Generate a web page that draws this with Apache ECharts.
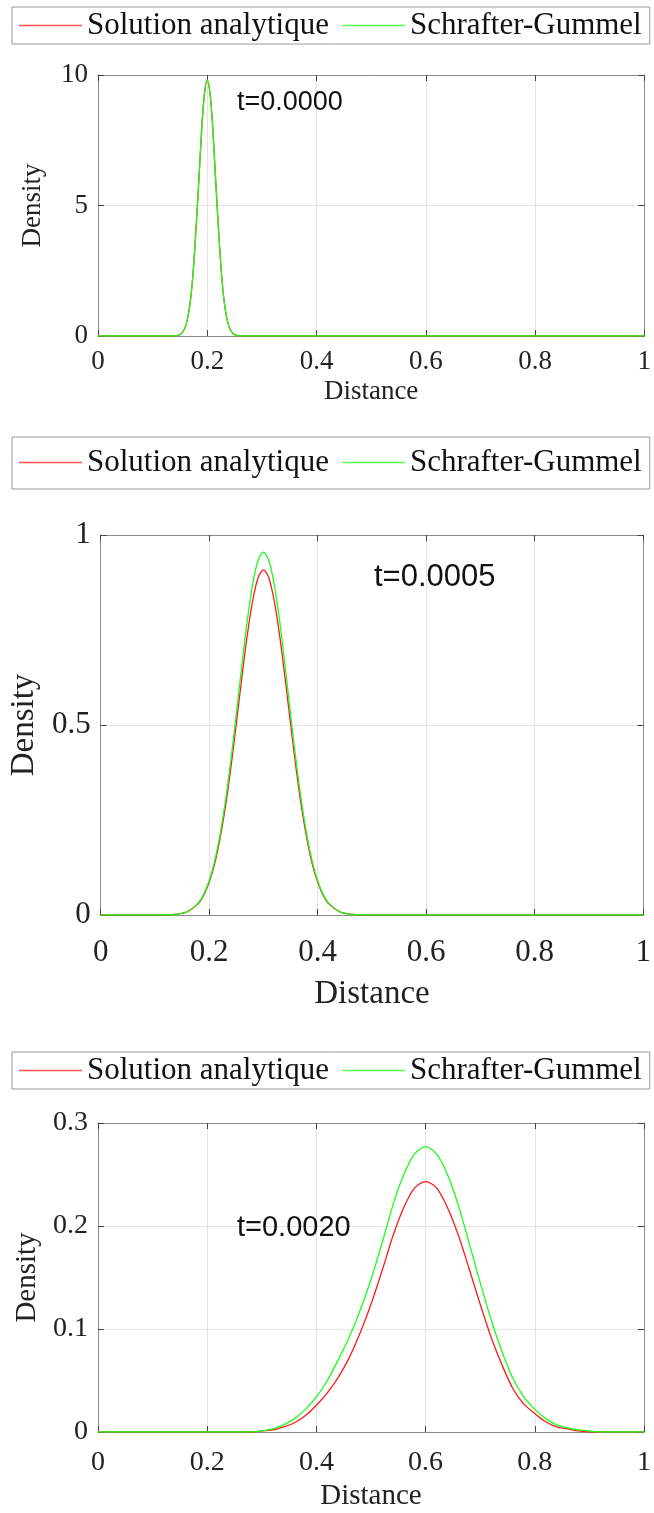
<!DOCTYPE html>
<html>
<head>
<meta charset="utf-8">
<script src="https://cdn.jsdelivr.net/npm/echarts@6/dist/echarts.min.js"></script>
<style>
  html, body { margin: 0; padding: 0; background: #fff; }
  #chart { width: 654px; height: 1513px; }
</style>
</head>
<body>
<div id="chart"></div>
<script>
// series names
const names = ['Solution analytique', 'Schrafter-Gummel']
const times = ['t=0.0000', 't=0.0005', 't=0.0020']
const xTicks = [0, 0.2, 0.4, 0.6, 0.8, 1]
const yTicks1 = [0, 5, 10]
const yTicks2 = [0, 0.5, 1]
const yTicks3 = [0, 0.1, 0.2, 0.3]

// panel 1 : t = 0 (both curves coincide)
const x1 = [0, 0.14, 0.15, 0.155, 0.16, 0.165, 0.17, 0.175, 0.18, 0.185, 0.19, 0.195, 0.2,
  0.205, 0.21, 0.215, 0.22, 0.225, 0.23, 0.235, 0.24, 0.245, 0.25, 0.26, 1]
const red1 = [0, 0, 0.05, 0.15, 0.35, 0.77, 1.5, 2.67, 4.3, 6.1, 8.0, 9.3, 9.8,
  9.3, 8.0, 6.1, 4.3, 2.67, 1.5, 0.77, 0.35, 0.15, 0.05, 0, 0]
const green1 = [0, 0, 0.05, 0.15, 0.35, 0.77, 1.5, 2.67, 4.3, 6.1, 8.0, 9.3, 9.8,
  9.3, 8.0, 6.1, 4.3, 2.67, 1.5, 0.77, 0.35, 0.15, 0.05, 0, 0]

// panel 2 : t = 0.0005
const x2 = [0, 0.12, 0.14, 0.16, 0.18, 0.19, 0.2, 0.21, 0.22, 0.23, 0.24, 0.25, 0.26, 0.27, 0.28, 0.29, 0.3,
  0.31, 0.32, 0.33, 0.34, 0.35, 0.36, 0.37, 0.38, 0.39, 0.4, 0.41, 0.42, 0.44, 0.46, 0.48, 1]
const red2 = [0, 0, 0.002, 0.009, 0.03, 0.052, 0.086, 0.134, 0.201, 0.285, 0.388, 0.503, 0.622, 0.734, 0.826, 0.887, 0.908,
  0.887, 0.826, 0.734, 0.622, 0.503, 0.388, 0.285, 0.201, 0.134, 0.086, 0.052, 0.03, 0.009, 0.002, 0, 0]
const green2 = [0, 0, 0.002, 0.009, 0.032, 0.055, 0.09, 0.141, 0.211, 0.3, 0.408, 0.529, 0.654, 0.772, 0.869, 0.933, 0.955,
  0.933, 0.869, 0.772, 0.654, 0.529, 0.408, 0.3, 0.211, 0.141, 0.09, 0.055, 0.032, 0.009, 0.002, 0, 0]

// panel 3 : t = 0.0020
const x3 = [0, 0.26, 0.28, 0.3, 0.32, 0.34, 0.36, 0.38, 0.4, 0.42, 0.44, 0.46, 0.48, 0.5, 0.52, 0.54, 0.56, 0.58, 0.6,
  0.62, 0.64, 0.66, 0.68, 0.7, 0.72, 0.74, 0.76, 0.78, 0.8, 0.82, 0.84, 0.86, 0.88, 0.9, 0.92, 0.94, 1]
const red3 = [0, 0, 0, 0.001, 0.002, 0.005, 0.009, 0.016, 0.026, 0.038, 0.053, 0.072, 0.096, 0.124, 0.156, 0.19, 0.218, 0.237, 0.243,
  0.237, 0.218, 0.191, 0.158, 0.124, 0.092, 0.065, 0.042, 0.027, 0.018, 0.01, 0.005, 0.003, 0.001, 0, 0, 0, 0]
const green3 = [0, 0, 0, 0.001, 0.003, 0.007, 0.013, 0.022, 0.034, 0.05, 0.07, 0.092, 0.118, 0.148, 0.183, 0.22, 0.25, 0.27, 0.277,
  0.27, 0.25, 0.22, 0.183, 0.145, 0.109, 0.078, 0.052, 0.034, 0.022, 0.013, 0.007, 0.004, 0.002, 0.001, 0, 0, 0]

const serif = '"Liberation Serif", "Times New Roman", serif'
const sans = '"Liberation Sans", Arial, sans-serif'
const redColor = '#ff1a1a'
const greenColor = '#1aff1a'

const panels = [
  { xs: x1, red: red1, green: green1, yTicks: yTicks1, top: 75, height: 261, legendTop: 7, legendPad: [3, 8, 3, 7],
    tickSize: 27, nameSize: 27, labelMargin: 12, xNameGap: 42, yNameGap: 52, text: [237, 103], textSize: 27 },
  { xs: x2, red: red2, green: green2, yTicks: yTicks2, top: 535, height: 380, legendTop: 437, legendPad: [10, 8, 11, 7],
    tickSize: 31, nameSize: 33, labelMargin: 22, xNameGap: 63, yNameGap: 50, text: [374, 577], textSize: 31 },
  { xs: x3, red: red3, green: green3, yTicks: yTicks3, top: 1123, height: 309, legendTop: 1052, legendPad: [3, 8, 3, 7],
    tickSize: 28, nameSize: 29, labelMargin: 17, xNameGap: 50, yNameGap: 53, text: [237, 1228], textSize: 29 }
]

const frame = { show: true, onZero: false, lineStyle: { color: '#8c8c8c', width: 1 } }
const inTick = { show: true, inside: true, length: 6, lineStyle: { color: '#444' } }
const gridLine = { show: true, lineStyle: { color: '#e4e4e4', width: 1 } }

let option = {
  animation: false,
  backgroundColor: '#fff',
  grid: [],
  xAxis: [],
  yAxis: [],
  legend: [],
  series: [],
  graphic: []
}

panels.forEach((p, i) => {
  let yStep = p.yTicks[1] - p.yTicks[0]
  let yMax = p.yTicks[p.yTicks.length - 1]
  option.grid.push({ left: 98, top: p.top, width: 552, height: p.height })
  option.xAxis.push({
    type: 'value', gridIndex: i, min: xTicks[0], max: xTicks[xTicks.length - 1], interval: xTicks[1] - xTicks[0],
    axisLine: frame, axisTick: inTick, splitLine: gridLine,
    axisLabel: { fontFamily: serif, fontSize: p.tickSize, color: '#222', margin: p.labelMargin },
    name: 'Distance', nameLocation: 'middle', nameGap: p.xNameGap,
    nameTextStyle: { fontFamily: serif, fontSize: p.nameSize, color: '#222' }
  })
  option.xAxis.push({
    type: 'value', gridIndex: i, position: 'top', min: xTicks[0], max: xTicks[xTicks.length - 1], interval: xTicks[1] - xTicks[0],
    axisLine: frame, axisTick: inTick, splitLine: { show: false }, axisLabel: { show: false }
  })
  option.yAxis.push({
    type: 'value', gridIndex: i, min: 0, max: yMax, interval: yStep,
    axisLine: frame, axisTick: inTick, splitLine: gridLine,
    axisLabel: { fontFamily: serif, fontSize: p.tickSize, color: '#222', margin: 10 },
    name: 'Density', nameLocation: 'middle', nameGap: p.yNameGap,
    nameTextStyle: { fontFamily: serif, fontSize: p.nameSize, color: '#222' }
  })
  option.yAxis.push({
    type: 'value', gridIndex: i, position: 'right', min: 0, max: yMax, interval: yStep,
    axisLine: frame, axisTick: inTick, splitLine: { show: false }, axisLabel: { show: false }
  })
  option.legend.push({
    data: [
      { name: names[0], itemStyle: { color: redColor, borderWidth: 0, opacity: 0.75 } },
      { name: names[1], itemStyle: { color: greenColor, borderWidth: 0, opacity: 0.75 } }
    ],
    left: 12, top: p.legendTop, orient: 'horizontal',
    icon: 'rect', itemWidth: 63, itemHeight: 1.5, itemGap: 13, padding: p.legendPad,
    itemStyle: { borderWidth: 0 },
    borderColor: '#999', borderWidth: 1, backgroundColor: '#fff',
    textStyle: { fontFamily: serif, fontSize: 31, color: '#111' }
  })
  option.series.push({
    name: names[0], type: 'line', xAxisIndex: 2 * i, yAxisIndex: 2 * i,
    symbol: 'none', smooth: 0.3, color: redColor,
    lineStyle: { width: 1.3, color: redColor },
    data: p.xs.map((x, k) => [x, p.red[k]])
  })
  option.series.push({
    name: names[1], type: 'line', xAxisIndex: 2 * i, yAxisIndex: 2 * i,
    symbol: 'none', smooth: 0.3, color: greenColor,
    lineStyle: { width: 1.3, color: greenColor },
    data: p.xs.map((x, k) => [x, p.green[k]])
  })
  option.graphic.push({
    type: 'text', x: p.text[0], y: p.text[1], z: 10,
    style: { text: times[i], fill: '#111', font: p.textSize + 'px ' + sans, verticalAlign: 'middle' }
  })
})

let chart = echarts.init(document.getElementById('chart'))
chart.setOption(option)
</script>
</body>
</html>
